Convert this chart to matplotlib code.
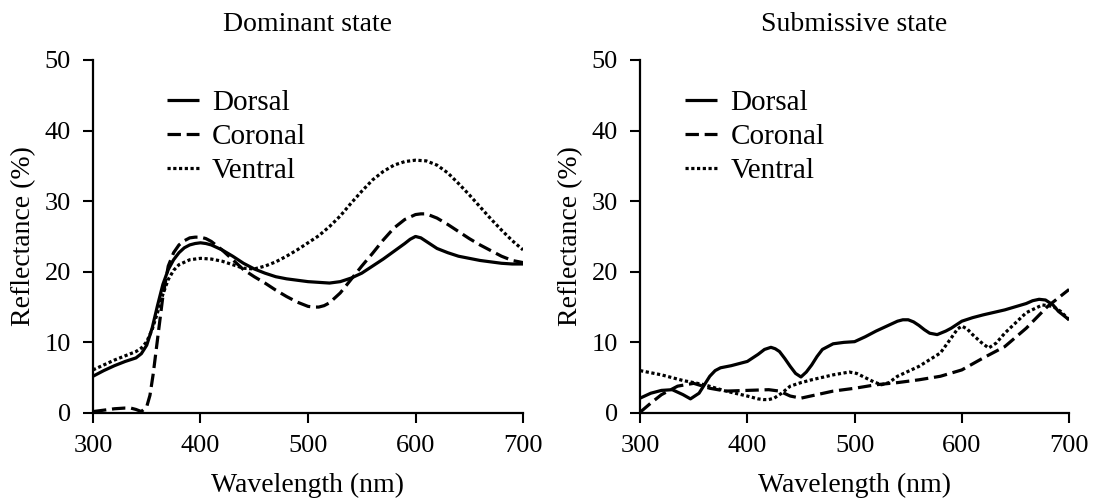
import matplotlib
matplotlib.use("Agg")
import matplotlib.pyplot as plt

plt.rcParams['font.family'] = ['Liberation Serif', 'DejaVu Serif']

# Dominant state spectra
dom_dorsal_wl = [300, 310, 320, 330, 340, 345, 350, 355, 360, 365, 370, 375, 380, 385, 390, 395, 400,
                 405, 410, 420, 430, 440, 450, 460, 470, 480, 490, 500, 510, 520, 530, 540, 550, 560,
                 570, 580, 590, 595, 600, 605, 610, 620, 630, 640, 650, 660, 670, 680, 690, 700]
dom_dorsal = [5.2, 6.0, 6.7, 7.3, 7.8, 8.4, 9.6, 12.0, 15.2, 18.2, 20.3, 21.7, 22.7, 23.4, 23.8, 24.0, 24.1,
              24.0, 23.8, 23.1, 22.2, 21.2, 20.4, 19.8, 19.3, 19.0, 18.8, 18.6, 18.5, 18.4, 18.6, 19.1, 19.8, 20.8,
              21.8, 22.9, 24.0, 24.6, 25.0, 24.8, 24.3, 23.3, 22.7, 22.2, 21.9, 21.6, 21.4, 21.2, 21.1, 21.1]

dom_coronal_wl = [300, 310, 320, 330, 335, 340, 345, 350, 353, 356, 360, 365, 370, 375, 380, 385, 390,
                  395, 400, 405, 410, 420, 430, 440, 450, 460, 470, 480, 490, 500, 505, 510, 515, 520, 530,
                  540, 550, 560, 570, 580, 590, 600, 605, 610, 620, 630, 640, 650, 660, 670, 680, 690, 700]
dom_coronal = [0.2, 0.4, 0.6, 0.7, 0.7, 0.5, 0.2, 0.9, 2.5, 5.5, 10.4, 16.5, 20.8, 22.7, 23.8, 24.4, 24.8,
               24.9, 24.9, 24.7, 24.3, 23.1, 21.7, 20.3, 19.3, 18.4, 17.4, 16.5, 15.7, 15.1, 15.0, 15.0, 15.2,
               15.6, 17.0, 18.9, 20.8, 22.6, 24.5, 26.2, 27.4, 28.1, 28.2, 28.2, 27.6, 26.7, 25.7, 24.7, 23.8,
               23.0, 22.2, 21.6, 21.3]

dom_ventral_wl = [300, 310, 320, 330, 340, 345, 350, 355, 360, 365, 370, 375, 380, 390, 400, 410, 420,
                  430, 440, 450, 460, 470, 480, 490, 500, 510, 520, 530, 540, 550, 560, 570, 580, 590, 600,
                  610, 620, 630, 640, 650, 660, 670, 680, 690, 700]
dom_ventral = [6.1, 6.8, 7.5, 8.1, 8.7, 9.2, 10.1, 11.8, 14.2, 16.8, 18.9, 20.2, 21.0, 21.7, 21.9, 21.8, 21.5,
               21.0, 20.5, 20.4, 20.8, 21.4, 22.2, 23.1, 24.1, 25.1, 26.4, 27.9, 29.7, 31.4, 33.0, 34.2, 35.1,
               35.6, 35.8, 35.7, 35.1, 34.0, 32.5, 30.9, 29.2, 27.5, 25.9, 24.4, 23.1]

# Submissive state spectra
sub_dorsal_wl = [300, 310, 320, 330, 340, 347, 355, 360, 365, 370, 375, 385, 400, 410, 416, 422, 426, 430,
                 435, 440, 445, 450, 455, 460, 465, 470, 480, 490, 500, 510, 520, 530, 540, 545, 550, 555,
                 560, 565, 570, 577, 585, 590, 600, 610, 620, 640, 660, 666, 672, 678, 685, 690, 700]
sub_dorsal = [2.1, 2.8, 3.2, 3.3, 2.6, 2.0, 2.8, 4.0, 5.2, 6.0, 6.4, 6.7, 7.3, 8.3, 9.0, 9.3, 9.1, 8.7,
              7.7, 6.6, 5.6, 5.1, 5.8, 6.8, 8.0, 9.0, 9.8, 10.0, 10.1, 10.8, 11.6, 12.3, 13.0, 13.2, 13.2, 12.9,
              12.4, 11.8, 11.3, 11.1, 11.6, 12.0, 13.0, 13.5, 13.9, 14.6, 15.5, 15.9, 16.1, 16.0, 15.3, 14.4, 13.2]

sub_coronal_wl = [300, 310, 320, 335, 350, 365, 380, 400, 420, 430, 440, 450, 465, 480, 500, 520, 540,
                  560, 580, 600, 620, 640, 660, 680, 700]
sub_coronal = [0.1, 1.4, 2.6, 3.8, 4.2, 3.5, 3.1, 3.2, 3.3, 3.1, 2.4, 2.1, 2.6, 3.1, 3.5, 4.0, 4.3,
               4.7, 5.2, 6.1, 7.8, 9.4, 12.0, 15.1, 17.5]

sub_ventral_wl = [300, 320, 340, 360, 380, 400, 410, 415, 420, 425, 432, 440, 450, 460, 480, 495, 502, 510,
                  518, 525, 532, 540, 560, 580, 590, 596, 600, 605, 610, 618, 625, 632, 640, 660, 675, 685,
                  692, 700]
sub_ventral = [6.0, 5.4, 4.6, 4.0, 3.1, 2.4, 2.0, 1.9, 1.9, 2.1, 2.8, 3.8, 4.3, 4.7, 5.4, 5.8, 5.6, 5.0,
               4.4, 4.0, 4.3, 5.2, 6.6, 8.5, 10.6, 11.9, 12.3, 11.9, 11.1, 10.0, 9.2, 9.9, 11.3, 14.2, 15.3, 15.1,
               14.4, 13.2]

titles = ["Dominant state", "Submissive state"]
xticks = [300, 400, 500, 600, 700]
yticks = [0, 10, 20, 30, 40, 50]

fig = plt.figure(figsize=(10.99, 4.98), dpi=100)
ax_left = fig.add_axes([0.0846, 0.1707, 0.3913, 0.709])
ax_right = fig.add_axes([0.5824, 0.1707, 0.3904, 0.709])

panels = [
    (ax_left, titles[0], (dom_dorsal_wl, dom_dorsal), (dom_coronal_wl, dom_coronal),
     (dom_ventral_wl, dom_ventral), 0.172),
    (ax_right, titles[1], (sub_dorsal_wl, sub_dorsal), (sub_coronal_wl, sub_coronal),
     (sub_ventral_wl, sub_ventral), 0.105),
]

lw = 2.3
for ax, title, d, c, v, leg_x in panels:
    ax.plot(d[0], d[1], color='black', lw=lw, ls='-', label='Dorsal',
            solid_joinstyle='round', solid_capstyle='butt')
    ax.plot(c[0], c[1], color='black', lw=lw, ls=(0, (4.2, 1.8)), label='Coronal',
            dash_joinstyle='round')
    ax.plot(v[0], v[1], color='black', lw=lw, ls=(0, (1, 0.8)), label='Ventral',
            dash_joinstyle='round')
    ax.set_xlim(300, 700)
    ax.set_ylim(0, 50)
    ax.set_xticks(xticks)
    ax.set_yticks(yticks)
    ax.set_title(title, fontsize=20, pad=21)
    ax.set_xlabel("Wavelength (nm)", fontsize=20, labelpad=11)
    ax.set_ylabel("Reflectance (%)", fontsize=20, labelpad=6)
    for s in ('top', 'right'):
        ax.spines[s].set_visible(False)
    for s in ('left', 'bottom'):
        ax.spines[s].set_linewidth(1.6)
    ax.tick_params(direction='out', length=7, width=1.5, labelsize=19, pad=9)
    ax.legend(loc='upper left', bbox_to_anchor=(leg_x, 0.915),
              frameon=False, fontsize=21, handlelength=1.1, handletextpad=0.45,
              labelspacing=0.25, borderaxespad=0, borderpad=0)

fig.savefig("out.png", dpi=100)
